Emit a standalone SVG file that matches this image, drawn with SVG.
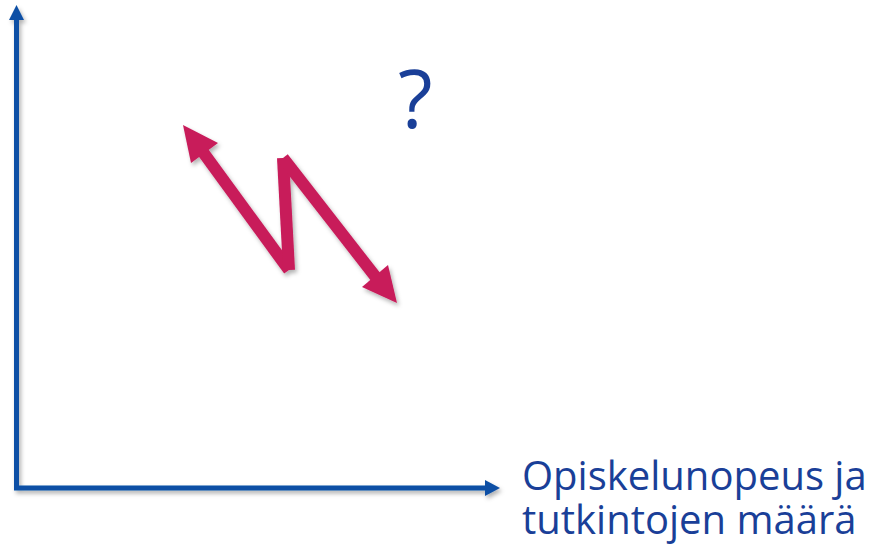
<svg xmlns="http://www.w3.org/2000/svg" width="870" height="551" viewBox="0 0 870 551">
  <defs>
    <filter id="sh" x="-20%" y="-20%" width="140%" height="140%">
      <feDropShadow dx="2" dy="3" stdDeviation="2" flood-color="#000" flood-opacity="0.3"/>
    </filter>
    <style>
      .axis { stroke: #0b4fa5; stroke-width: 5; fill: none; }
      .axhead { fill: #0b4fa5; }
      .mag { stroke: #c81b5a; stroke-width: 12; fill: none; stroke-linecap: butt; }
      .maghead { fill: #c81b5a; }
      .lbl { font-family: "Open Sans", "Noto Sans", sans-serif; fill: #1a3f98; }
    </style>
  </defs>
  <rect width="870" height="551" fill="#fff"/>
  <g id="axes" filter="url(#sh)">
    <path class="axis" d="M16.5,18 V488 H487"/>
    <polygon class="axhead" points="16.5,5 9,20 24,20"/>
    <polygon class="axhead" points="500,488 485,480 485,496"/>
  </g>
  <g id="zigzag" filter="url(#sh)">
    <line class="mag" x1="200" y1="148" x2="289" y2="270"/>
    <line class="mag" x1="289" y1="270" x2="283" y2="158"/>
    <line class="mag" x1="283" y1="158" x2="378" y2="280"/>
    <polygon class="maghead" points="183,125 218,143 191,163"/>
    <polygon class="maghead" points="397,303 362,287 388,265"/>
  </g>
  <g id="question">
    <text class="lbl" x="398" y="128" font-size="80">?</text>
  </g>
  <g id="xlabel">
    <text class="lbl" font-size="40"><tspan x="522" y="490">Opiskelunopeus ja</tspan><tspan x="522" y="534">tutkintojen määrä</tspan></text>
  </g>
</svg>
